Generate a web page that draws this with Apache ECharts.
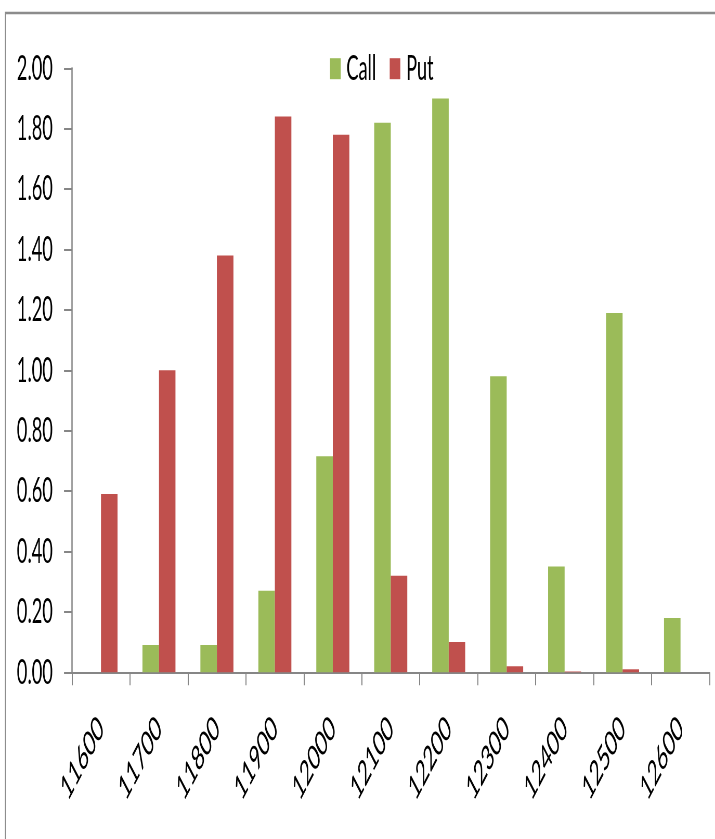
<!DOCTYPE html>
<html>
<head>
<meta charset="utf-8">
<script src="https://cdn.jsdelivr.net/npm/echarts@6/dist/echarts.min.js"></script>
<style>
  html, body { margin: 0; padding: 0; background: #fff; overflow: hidden; }
  #wrap { width: 715px; height: 839px; overflow: hidden; }
  /* the chart is laid out wide and then narrowed horizontally */
  #chart { width: 1375px; height: 839px; transform: scaleX(0.52); transform-origin: 0 0; }
</style>
</head>
<body>
<div id="wrap"><div id="chart"></div></div>
<script>
// Strike prices
const strikes = ['11600', '11700', '11800', '11900', '12000', '12100', '12200', '12300', '12400', '12500', '12600'];
// Call values per strike
const callValues = [0, 0.09, 0.09, 0.27, 0.715, 1.82, 1.90, 0.98, 0.35, 1.19, 0.18];
// Put values per strike
const putValues = [0.59, 1.00, 1.38, 1.84, 1.78, 0.32, 0.10, 0.02, 0.003, 0.01, 0];
// Value axis tick labels
const yTicks = ['0.00', '0.20', '0.40', '0.60', '0.80', '1.00', '1.20', '1.40', '1.60', '1.80', '2.00'];

const font = 'Lato, "Liberation Sans", sans-serif';
const axisGray = '#868686';

const chart = echarts.init(document.getElementById('chart'), null, { renderer: 'canvas' });
chart.setOption({
  animation: false,
  backgroundColor: '#fff',
  graphic: [{
    type: 'rect',
    shape: { x: 10.6, y: 13, width: 3000, height: 3000 },
    style: { fill: 'none', stroke: '#8c8c8c', lineWidth: 2.5 },
    silent: true
  }],
  legend: {
    left: 634.6,
    top: 50.7,
    padding: 0,
    itemWidth: 20.5,
    itemHeight: 21,
    itemGap: 26,
    icon: 'rect',
    textStyle: { fontFamily: font, fontSize: 35, lineHeight: 36, color: '#000', padding: [0, 0, 0, 6] },
    data: ['Call', 'Put']
  },
  grid: { left: 138.5, right: 10.6, top: 68.3, bottom: 166.7, containLabel: false },
  xAxis: {
    type: 'category',
    data: strikes,
    boundaryGap: true,
    axisLine: { lineStyle: { color: axisGray, width: 2 } },
    axisTick: { show: true, length: 13, lineStyle: { color: axisGray, width: 2 } },
    axisLabel: { rotate: 45, margin: 50, fontFamily: font, fontSize: 35, color: '#000', interval: 0 },
    splitLine: { show: false }
  },
  yAxis: {
    type: 'value',
    min: 0,
    max: 2,
    interval: 0.2,
    axisLine: { show: true, lineStyle: { color: axisGray, width: 2.5 } },
    axisTick: { show: true, length: 15.4, lineStyle: { color: axisGray, width: 2 } },
    axisLabel: {
      margin: 37,
      fontFamily: font,
      fontSize: 35,
      color: '#000',
      formatter: function (v) { return yTicks[Math.round(v / 0.2)]; }
    },
    splitLine: { show: false }
  },
  series: [
    {
      name: 'Call',
      type: 'bar',
      data: callValues,
      barGap: '0%',
      barCategoryGap: '43%',
      itemStyle: { color: '#9BBB59' }
    },
    {
      name: 'Put',
      type: 'bar',
      data: putValues,
      barGap: '0%',
      barCategoryGap: '43%',
      itemStyle: { color: '#C0504D' }
    }
  ]
});
</script>
</body>
</html>
